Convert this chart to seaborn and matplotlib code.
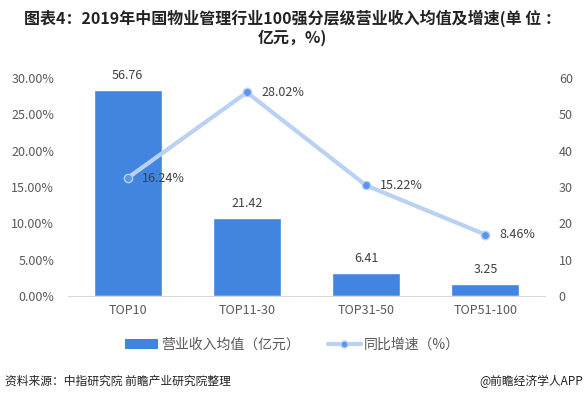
import matplotlib
matplotlib.use("Agg")
import matplotlib.pyplot as plt
import seaborn as sns
import numpy as np
import pandas as pd
from matplotlib.lines import Line2D
from matplotlib.patches import Patch

# Datos
categorias = ["TOP10", "TOP11-30", "TOP31-50", "TOP51-100"]
ingresos = [56.76, 21.42, 6.41, 3.25]          # 亿元
crecimiento = [16.24, 28.02, 15.22, 8.46]      # %
ticks_izq = [0, 5, 10, 15, 20, 25, 30]
ticks_der = [0, 10, 20, 30, 40, 50, 60]

titulo = "图表4：2019年中国物业管理行业100强分层级营业收入均值及增速(单 位 ：\n亿元，%)"
fuente = "资料来源：中指研究院 前瞻产业研究院整理"
marca = "@前瞻经济学人APP"

sns.set_style("white")
plt.rcParams['font.family'] = ['Noto Sans CJK SC', 'DejaVu Sans']

color_barra = "#4285e0"
color_linea = "#b9d1f4"
color_punto = "#5b95ee"
gris = "#595959"

df = pd.DataFrame({"cat": categorias, "ingreso": ingresos, "crec": crecimiento})

fig = plt.figure(figsize=(5.85, 3.99), dpi=100)
ax = fig.add_axes([0.1162, 0.258, 0.8154, 0.5465])

sns.barplot(data=df, x="cat", y="ingreso", color=color_barra, width=0.57,
            saturation=1, ax=ax)
ax.set_ylim(0, 60)
ax.set_yticks(ticks_der)
ax.set_xlabel("")
ax.set_ylabel("")
for i, v in enumerate(ingresos):
    ax.text(i, v + 2.2, f"{v:.2f}", ha="center", va="bottom", fontsize=9, color="#404040")

ax2 = ax.twinx()
# la linea va sobre el eje izquierdo, las barras sobre el derecho
ax.yaxis.tick_right()
ax2.yaxis.tick_left()
sns.lineplot(x=np.arange(len(categorias)), y=crecimiento, ax=ax2, color=color_linea,
             linewidth=3, marker="o", markersize=6, markerfacecolor=color_punto,
             markeredgecolor=color_linea, markeredgewidth=1)
ax2.set_ylim(0, 30)
ax2.set_yticks(ticks_izq)
ax2.set_yticklabels([f"{t:.2f}%" for t in ticks_izq])
ax2.set_xlim(-0.5, 3.5)
for i, v in enumerate(crecimiento):
    ax2.text(i + 0.12, v, f"{v:.2f}%", ha="left", va="center", fontsize=9, color="#404040")

for a in (ax, ax2):
    for s in a.spines.values():
        s.set_visible(False)
    a.tick_params(length=0, labelsize=9, labelcolor=gris)
ax.spines["bottom"].set_visible(True)
ax.spines["bottom"].set_color("#d9d9d9")
ax.tick_params(axis="x", pad=6)
ax.tick_params(axis="y", pad=10)
ax2.tick_params(axis="y", pad=10)

handles = [Patch(facecolor=color_barra, edgecolor="none"),
           Line2D([0], [0], color=color_linea, linewidth=3, marker="o", markersize=5,
                  markerfacecolor=color_punto, markeredgecolor=color_linea)]
fig.legend(handles, ["营业收入均值（亿元）", "同比增速（%）"], loc="center",
           bbox_to_anchor=(0.5, 0.135), ncol=2, frameon=False, fontsize=10,
           handlelength=2.4, handletextpad=0.2, columnspacing=2.0, labelcolor=gris)

fig.text(0.5, 0.93, titulo, ha="center", va="center", fontsize=11.5,
         fontweight="bold", color="#222222", linespacing=1.15)
fig.text(0.009, 0.045, fuente, ha="left", va="center", fontsize=8.5, color="#222222")
fig.text(0.997, 0.045, marca, ha="right", va="center", fontsize=8.5, color="#222222")

fig.savefig("out.png", dpi=100)
